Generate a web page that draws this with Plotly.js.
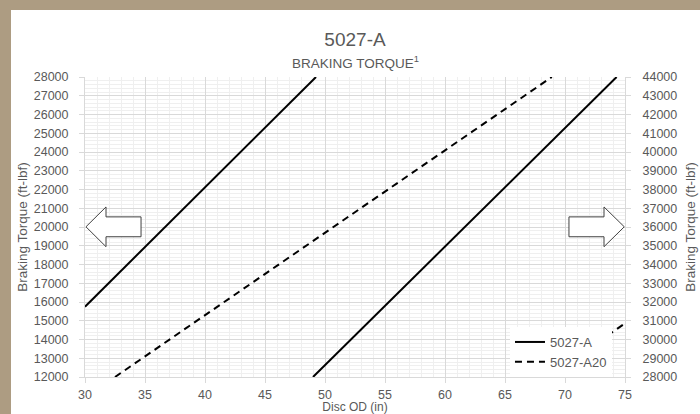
<!DOCTYPE html>
<html>
<head>
<meta charset="utf-8">
<script src="https://cdn.plot.ly/plotly-3.0.1.min.js"></script>
<style>
  html, body { margin: 0; padding: 0; background: #ad9c82; width: 700px; height: 414px; overflow: hidden; }
  #chart { position: absolute; left: 11px; top: 10px; width: 689px; height: 404px; background: #ffffff; }
</style>
</head>
<body>
<div id="chart"></div>
<script>
// Disc OD (in) vs braking torque (ft-lbf); each series is read on the left
// axis (12000-28000) and continues on the right axis (28000-44000).
const seriesNames = ["5027-A", "5027-A20"];

const solidLeftOD     = [30, 49.25];
const solidLeftTorque = [15750, 28000];
const solidRightOD     = [49.0, 74.3];
const solidRightTorque = [28000, 44000];

const dashLeftOD     = [32.5, 68.9];
const dashLeftTorque = [12000, 28000];
const dashRightOD     = [68.6, 75];
const dashRightTorque = [28000, 30860];

const xTickVals = [30, 35, 40, 45, 50, 55, 60, 65, 70, 75];

const textColor = "#595959";
const fontFamily = "Liberation Sans, Arial, sans-serif";

const solidLine = {color: "#000000", width: 2};
const dashLine = {color: "#000000", width: 2, dash: "7px,5px"};

const traces = [
  {x: solidLeftOD, y: solidLeftTorque, name: seriesNames[0], legendgroup: "a",
   mode: "lines", line: solidLine, yaxis: "y", showlegend: true},
  {x: dashLeftOD, y: dashLeftTorque, name: seriesNames[1], legendgroup: "b",
   mode: "lines", line: dashLine, yaxis: "y", showlegend: true},
  {x: solidRightOD, y: solidRightTorque, name: seriesNames[0], legendgroup: "a",
   mode: "lines", line: solidLine, yaxis: "y2", showlegend: false},
  {x: dashRightOD, y: dashRightTorque, name: seriesNames[1], legendgroup: "b",
   mode: "lines", line: dashLine, yaxis: "y2", showlegend: false}
];

const arrowStyle = {type: "path", xref: "x", yref: "y", layer: "above",
  fillcolor: "#ffffff", line: {color: "#404040", width: 1}};

const layout = {
  width: 689, height: 404,
  margin: {l: 74, r: 75, t: 67, b: 37, pad: 0},
  paper_bgcolor: "#ffffff", plot_bgcolor: "#ffffff",
  font: {family: fontFamily, color: textColor, size: 12.5},
  title: {
    text: "5027-A",
    font: {size: 19, color: textColor, family: fontFamily},
    x: 0.5, xref: "paper", xanchor: "center",
    y: 0.928, yref: "container", yanchor: "middle"
  },
  annotations: [{
    text: "BRAKING TORQUE<sup>1</sup>", showarrow: false,
    xref: "paper", yref: "paper", x: 0.5, y: 1.05, xanchor: "center", yanchor: "middle",
    font: {size: 13.5, color: textColor, family: fontFamily}
  }],
  xaxis: {
    range: [30, 75], tickvals: xTickVals, ticks: "outside", ticklen: 5, tickcolor: "#d9d9d9",
    ticklabelstandoff: 1,
    showline: true, linecolor: "#d9d9d9", linewidth: 1,
    showgrid: true, gridcolor: "#d9d9d9", gridwidth: 1, zeroline: false,
    minor: {dtick: 1, showgrid: true, gridcolor: "#efefef", gridwidth: 1},
    tickfont: {size: 12.5, color: textColor},
    title: {text: "Disc OD (in)", font: {size: 12, color: textColor}, standoff: 2}
  },
  yaxis: {
    range: [12000, 28000], dtick: 1000, ticks: "outside", ticklen: 5, tickcolor: "#d9d9d9",
    ticklabelstandoff: 8,
    showline: true, linecolor: "#d9d9d9", linewidth: 1,
    showgrid: true, gridcolor: "#d9d9d9", gridwidth: 1, zeroline: false,
    minor: {dtick: 200, showgrid: true, gridcolor: "#efefef", gridwidth: 1},
    tickformat: "d", tickfont: {size: 12.5, color: textColor},
    title: {text: "Braking Torque (ft-lbf)", font: {size: 13.5, color: textColor}, standoff: 3}
  },
  yaxis2: {
    overlaying: "y", side: "right",
    range: [28000, 44000], dtick: 1000, ticks: "outside", ticklen: 5, tickcolor: "#d9d9d9",
    ticklabelstandoff: 9,
    showline: true, linecolor: "#d9d9d9", linewidth: 1,
    showgrid: false, zeroline: false,
    tickformat: "d", tickfont: {size: 12.5, color: textColor},
    title: {text: "Braking Torque (ft-lbf)", font: {size: 13.5, color: textColor}, standoff: 9}
  },
  legend: {
    x: 0.787, xanchor: "left", y: 0, yanchor: "bottom",
    bgcolor: "#ffffff", borderwidth: 0,
    font: {size: 13, color: textColor}, tracegroupgap: 0
  },
  shapes: [
    Object.assign({}, arrowStyle, {path: "M30.08,20010 L31.75,21070 L31.75,20540 L34.67,20540 L34.67,19480 L31.75,19480 L31.75,18950 Z"}),
    Object.assign({}, arrowStyle, {path: "M74.94,20010 L73.25,21070 L73.25,20540 L70.33,20540 L70.33,19480 L73.25,19480 L73.25,18950 Z"})
  ],
  showlegend: true
};

Plotly.newPlot("chart", traces, layout, {displayModeBar: false, staticPlot: true});
</script>
</body>
</html>
